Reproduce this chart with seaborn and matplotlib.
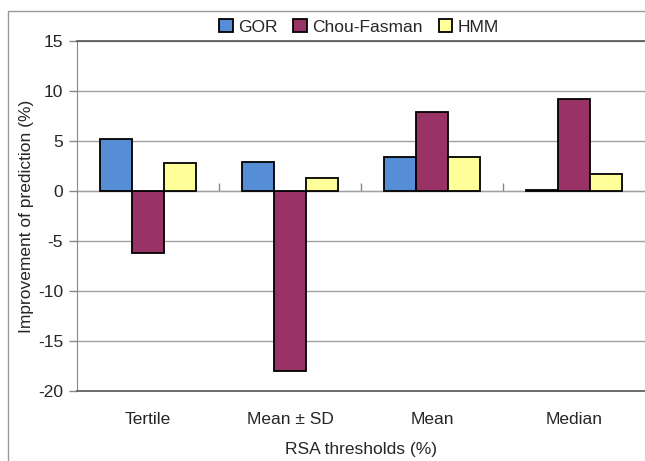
import numpy as np
import pandas as pd
import matplotlib
matplotlib.use("Agg")
import matplotlib.pyplot as plt
import seaborn as sns
from matplotlib.patches import Rectangle

categories = ["Tertile", "Mean \u00b1 SD", "Mean", "Median"]
methods = ["GOR", "Chou-Fasman", "HMM"]
gor = [5.2, 2.9, 3.4, 0.1]
chou = [-6.2, -18.0, 7.9, 9.2]
hmm = [2.8, 1.3, 3.4, 1.7]
colors = ["#558ED5", "#993366", "#FFFF99"]
yticks = [-20, -15, -10, -5, 0, 5, 10, 15]

sns.set_style("white")
plt.rcParams["font.family"] = ["Liberation Sans", "DejaVu Sans"]

rows = []
for m, vals in zip(methods, [gor, chou, hmm]):
    for c, v in zip(categories, vals):
        rows.append({"threshold": c, "value": v, "method": m})
df = pd.DataFrame(rows)

fig = plt.figure(figsize=(6.45, 4.61), dpi=100)
ax = fig.add_axes([77 / 645, 1 - 391 / 461, 1 - 77 / 645, 350 / 461])

sns.barplot(data=df, x="threshold", y="value", hue="method", order=categories,
            hue_order=methods, palette=colors, edgecolor="black", linewidth=1.3,
            width=0.68, saturation=1, ax=ax, legend=True, errorbar=None)

FS = 12.5
ymin, ymax = -20, 15
ax.set_ylim(ymin, ymax)
ax.set_xlim(-0.5, len(categories) - 0.5)
ax.set_yticks(yticks)
ax.set_yticklabels([str(t) for t in yticks], fontsize=FS)
ax.yaxis.grid(True, color="#a0a0a0", linewidth=1.0)
ax.set_axisbelow(True)
ax.tick_params(axis="y", direction="out", length=6, color="#888888", width=1, pad=4, left=True)
ax.tick_params(axis="x", length=0, labelsize=FS, pad=15)

for s in ["top", "bottom"]:
    ax.spines[s].set_color("#555555")
    ax.spines[s].set_linewidth(1.2)
ax.spines["left"].set_color("#888888")
ax.spines["right"].set_visible(False)

# zero-crossing category axis with boundary tick marks
loc0 = (0 - ymin) / (ymax - ymin)
sec = ax.secondary_xaxis(loc0)
sec.set_xticks(np.arange(len(categories) - 1) + 0.5)
sec.set_xticklabels([])
sec.tick_params(direction="out", length=6, color="#888888", width=1)
sec.spines["bottom"].set_color("#999999")
sec.spines["bottom"].set_linewidth(1.3)

ax.set_xlabel("RSA thresholds (%)", fontsize=FS, labelpad=11)
ax.set_ylabel("Improvement of prediction (%)", fontsize=FS, labelpad=3)

handles, labels = ax.get_legend_handles_labels()
ax.get_legend().remove()
fig.legend(handles, labels, ncol=3, loc="center", bbox_to_anchor=(359 / 645, 1 - 27 / 461),
           frameon=False, fontsize=FS, handlelength=0.8, handleheight=0.8,
           handletextpad=0.3, columnspacing=0.9, borderpad=0.1)

fig.patches.append(Rectangle((8 / 645, -0.1), 1.2, 1 - 11 / 461 + 0.1,
                             transform=fig.transFigure, fill=False,
                             edgecolor="#999999", linewidth=1.0))

fig.savefig("out.png", dpi=100)
